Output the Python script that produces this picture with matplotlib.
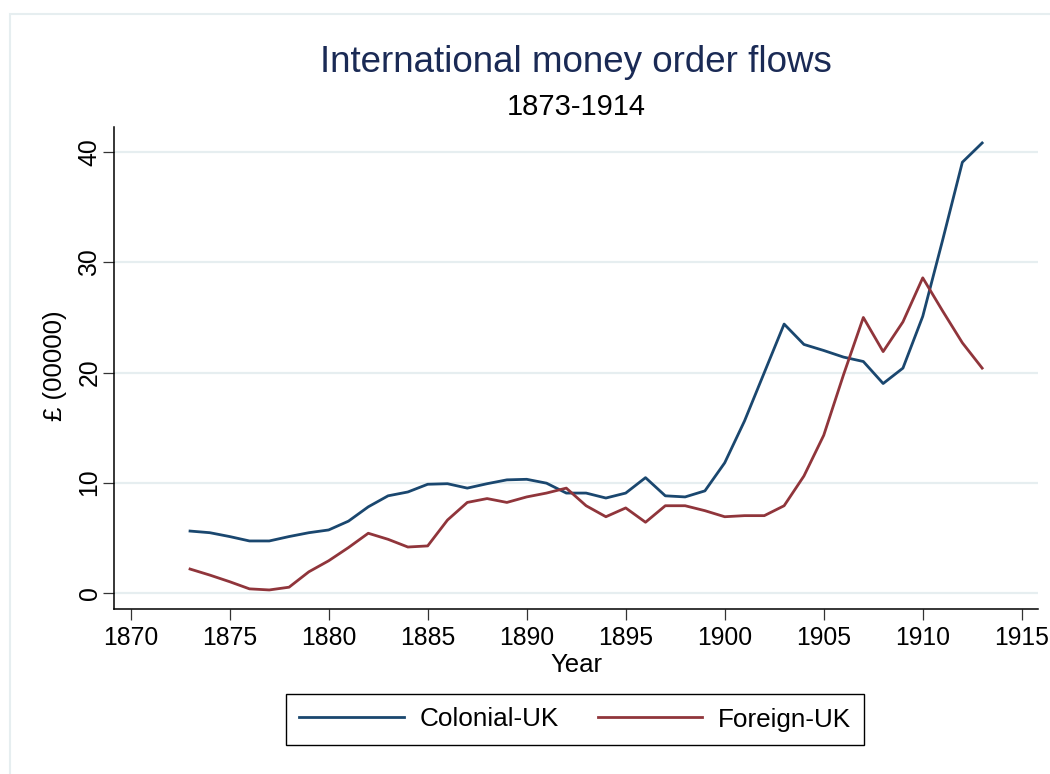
import matplotlib
matplotlib.use('Agg')
import matplotlib.pyplot as plt
from matplotlib.patches import Rectangle

plt.rcParams['font.family'] = ['Liberation Sans', 'DejaVu Sans']

years = list(range(1873, 1914))

colonial_uk = [5.6, 5.45, 5.1, 4.7, 4.7, 5.1, 5.45, 5.7, 6.5, 7.8,
               8.8, 9.15, 9.85, 9.9, 9.5, 9.9, 10.25, 10.3, 9.95, 9.05,
               9.05, 8.6, 9.05, 10.45, 8.8, 8.7, 9.25, 11.8, 15.6, 20.0,
               24.4, 22.55, 22.0, 21.4, 21.0, 19.0, 20.4, 25.1, 32.0, 39.1,
               40.85]

foreign_uk = [2.15, 1.6, 1.0, 0.35, 0.25, 0.5, 1.9, 2.9, 4.1, 5.4,
              4.85, 4.15, 4.25, 6.6, 8.2, 8.55, 8.2, 8.7, 9.05, 9.5,
              7.9, 6.9, 7.7, 6.4, 7.9, 7.9, 7.45, 6.9, 7.0, 7.0,
              7.9, 10.6, 14.3, 19.8, 25.0, 21.9, 24.6, 28.6, 25.6, 22.7,
              20.4]

series_names = ['Colonial-UK', 'Foreign-UK']
series_colors = ['#1a476f', '#90353b']
x_ticks = list(range(1870, 1920, 5))
y_ticks = [0, 10, 20, 30, 40]

W, H = 1050, 774
fig = plt.figure(figsize=(W / 100, H / 100), dpi=100)
fig.patch.set_facecolor('white')

# light outer graph-region border
fig.add_artist(Rectangle((10 / W, -0.1), 1.2, 1.1 - 14 / H, transform=fig.transFigure,
                         fill=False, edgecolor='#e6eef0', linewidth=1.5))

ax = fig.add_axes([114 / W, 1 - 609 / H, 924 / W, 482 / H])

for vals, name, col in zip([colonial_uk, foreign_uk], series_names, series_colors):
    ax.plot(years, vals, color=col, linewidth=2.0, label=name)

ax.set_xlim(1869.16, 1915.82)
ax.set_ylim(-1.48, 42.3)
ax.set_xticks(x_ticks)
ax.set_yticks(y_ticks)
ax.grid(axis='y', color='#e6eef0', linewidth=1.6)
ax.set_axisbelow(True)

for side in ['top', 'right']:
    ax.spines[side].set_visible(False)
for side in ['left', 'bottom']:
    ax.spines[side].set_color('black')
    ax.spines[side].set_linewidth(1.1)

ax.tick_params(axis='both', direction='out', length=8, width=0.9, color='#333333',
               labelsize=17.8, labelcolor='black')
ax.tick_params(axis='x', pad=4)
ax.tick_params(axis='y', pad=1, labelrotation=90)
for lab in ax.get_yticklabels():
    lab.set_va('center')

fig.text(576 / W, 1 - 62 / H, 'International money order flows', ha='center', va='center',
         fontsize=26.5, color='#1a2a55')
fig.text(576 / W, 1 - 107 / H, '1873-1914', ha='center', va='center', fontsize=21, color='black')
fig.text(576 / W, 1 - 665 / H, 'Year', ha='center', va='center', fontsize=18.5)
fig.text(55 / W, 1 - 366 / H, '£ (00000)', ha='center', va='center', rotation=90, fontsize=18.5)

leg = fig.legend(loc='center', bbox_to_anchor=(575 / W, 1 - 719.5 / H), ncol=2, fontsize=18.8,
                 frameon=True, fancybox=False, framealpha=1, edgecolor='black',
                 handlelength=4.0, handletextpad=0.6, columnspacing=1.5, borderpad=0.5)
leg.get_frame().set_linewidth(1.0)

plt.savefig('out.png', dpi=100)
